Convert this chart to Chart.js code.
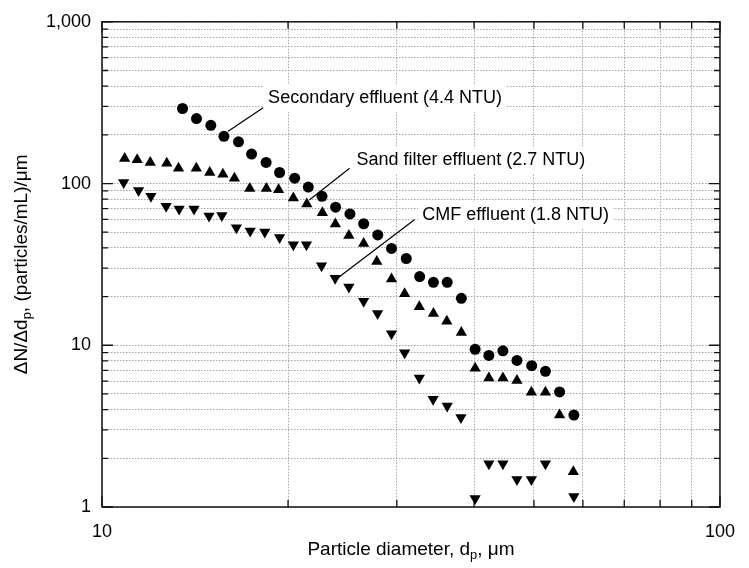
<!DOCTYPE html>
<html>
<head>
<meta charset="utf-8">
<script src="https://cdn.jsdelivr.net/npm/chart.js@4.4.0/dist/chart.umd.min.js"></script>
<style>
  html, body { margin: 0; padding: 0; background: #fff; }
</style>
</head>
<body>
<canvas id="chart" width="749" height="568"></canvas>
<script>
// Particle size distributions (d in um, dN/dd in particles/mL/um)
const secondaryX = [13.50, 14.22, 15.00, 15.75, 16.63, 17.46, 18.43, 19.38, 20.50, 21.57,
                    22.70, 23.88, 25.19, 26.51, 27.94, 29.41, 31.07, 32.66, 34.38, 36.19,
                    38.15, 40.16, 42.27, 44.54, 46.93, 49.58, 52.19, 55.01, 58.02];
const secondaryY = [291, 252, 229, 196, 181, 152, 135, 117, 108, 95.1,
                    83.4, 71.4, 64.9, 56.4, 48.1, 39.7, 34.4, 26.6, 24.5, 24.5,
                    19.5, 9.45, 8.65, 9.24, 8.06, 7.48, 6.90, 5.15, 3.70];

const sandX = [10.88, 11.40, 11.97, 12.73, 13.30, 14.21, 14.94, 15.69, 16.38, 17.34, 18.45, 19.31, 20.40,
               21.45, 22.73, 23.86, 25.09, 26.51, 27.84, 29.41, 30.88, 32.62, 34.38, 36.14, 38.15,
               40.16, 42.27, 44.54, 46.93, 49.53, 52.19, 55.01, 57.90];
const sandY = [143, 140.5, 134.7, 133.3, 124.3, 124.3, 116.9, 114.2, 107.9, 93.3, 93.3, 91.5, 81.4,
               74.8, 65.9, 56.2, 47.8, 42.6, 32.9, 25.7, 20.8, 17.3, 15.7, 14.1, 12.0,
               7.20, 6.28, 6.28, 6.05, 5.13, 5.13, 3.70, 1.65];

const cmfX = [10.84, 11.46, 12.00, 12.70, 13.33, 14.09, 14.90, 15.63, 16.50, 17.37, 18.34, 19.38, 20.40,
              21.42, 22.66, 23.84, 25.09, 26.51, 27.92, 29.41, 30.88, 32.62, 34.34, 36.19, 38.09,
              40.16, 42.27, 44.54, 46.93, 49.53, 52.19, 58.02];
const cmfY = [101.6, 90.7, 83.4, 72.4, 69.7, 69.7, 62.9, 63.4, 53.3, 50.9, 50.2, 46.3, 41.8,
              41.8, 31.0, 26.0, 22.9, 18.7, 15.7, 11.8, 8.99, 6.28, 4.63, 4.21, 3.57,
              1.13, 1.85, 1.85, 1.48, 1.48, 1.85, 1.16];

// axis ticks (gridlines at every one) and the few that carry a label
const xTicks = [10, 20, 30, 40, 50, 60, 70, 80, 90, 100];
const yTicks = [1, 2, 3, 4, 5, 6, 7, 8, 9,
                10, 20, 30, 40, 50, 60, 70, 80, 90,
                100, 200, 300, 400, 500, 600, 700, 800, 900, 1000];
const xTickLabels = { 10: '10', 100: '100' };
const yTickLabels = { 1: '1', 10: '10', 100: '100', 1000: '1,000' };

// callouts: text anchor and leader line, in data units
const noteText = ['Secondary effluent (4.4 NTU)', 'Sand filter effluent (2.7 NTU)', 'CMF effluent (1.8 NTU)'];
const noteX = [18.57, 25.81, 32.98];
const noteY = [338, 139.1, 64.0];
const leaderX1 = [15.98, 21.65, 24.16];
const leaderY1 = [209.4, 79.1, 26.3];
const leaderX2 = [18.23, 25.16, 32.03];
const leaderY2 = [293.7, 124.3, 59.7];

const FONT = '"Liberation Sans", Arial, Helvetica, sans-serif';

function points(xs, ys) {
    return xs.map((x, i) => ({ x: x, y: ys[i] }));
}

// draw a run of text pieces, some of them subscripts, starting at x
function drawParts(ctx, parts, x, y, size) {
    parts.forEach(p => {
        const s = p.sub ? size * 0.68 : size;
        ctx.font = s + 'px ' + FONT;
        ctx.fillText(p.t, x, p.sub ? y + size * 0.3 : y);
        x += ctx.measureText(p.t).width;
    });
}

function partsWidth(ctx, parts, size) {
    let w = 0;
    parts.forEach(p => {
        ctx.font = (p.sub ? size * 0.68 : size) + 'px ' + FONT;
        w += ctx.measureText(p.t).width;
    });
    return w;
}

// frame round the plot with inward tick marks on all four sides
const framePlugin = {
    id: 'frame',
    beforeDatasetsDraw(chart) {
        const { ctx, chartArea: a, scales: { x, y } } = chart;
        ctx.save();
        ctx.strokeStyle = '#111';
        ctx.lineWidth = 1.5;
        ctx.strokeRect(a.left, a.top, a.right - a.left, a.bottom - a.top);
        ctx.lineWidth = 1.3;
        ctx.beginPath();
        yTicks.forEach(v => {
            const py = y.getPixelForValue(v);
            const len = yTickLabels[v] ? 11 : 6;
            ctx.moveTo(a.left, py); ctx.lineTo(a.left + len, py);
            ctx.moveTo(a.right, py); ctx.lineTo(a.right - len, py);
        });
        xTicks.forEach(v => {
            const px = x.getPixelForValue(v);
            const len = xTickLabels[v] ? 11 : 7;
            ctx.moveTo(px, a.bottom); ctx.lineTo(px, a.bottom - len);
            ctx.moveTo(px, a.top); ctx.lineTo(px, a.top + len);
        });
        ctx.stroke();

        // callout boxes, leader lines and text
        const size = 18;
        ctx.font = size + 'px ' + FONT;
        ctx.textBaseline = 'middle';
        noteText.forEach((t, i) => {
            const tx = x.getPixelForValue(noteX[i]);
            const ty = y.getPixelForValue(noteY[i]);
            const w = ctx.measureText(t).width;
            ctx.fillStyle = '#fff';
            ctx.fillRect(tx - 4, ty - 13, w + 8, 26);
        });
        ctx.strokeStyle = '#000';
        ctx.lineWidth = 1.2;
        ctx.beginPath();
        leaderX1.forEach((v, i) => {
            ctx.moveTo(x.getPixelForValue(v), y.getPixelForValue(leaderY1[i]));
            ctx.lineTo(x.getPixelForValue(leaderX2[i]), y.getPixelForValue(leaderY2[i]));
        });
        ctx.stroke();
        ctx.fillStyle = '#000';
        noteText.forEach((t, i) => {
            ctx.fillText(t, x.getPixelForValue(noteX[i]), y.getPixelForValue(noteY[i]));
        });
        ctx.restore();
    }
};

// axis titles, with the subscript p
const titlesPlugin = {
    id: 'titles',
    afterDraw(chart) {
        const { ctx, chartArea: a } = chart;
        const size = 19;
        ctx.save();
        ctx.fillStyle = '#000';
        ctx.textBaseline = 'middle';
        ctx.textAlign = 'left';

        const xParts = [{ t: 'Particle diameter, d' }, { t: 'p', sub: true }, { t: ', \u03bcm' }];
        const xw = partsWidth(ctx, xParts, size);
        drawParts(ctx, xParts, (a.left + a.right) / 2 - xw / 2, 550, size);

        const yParts = [{ t: '\u0394N/\u0394d' }, { t: 'p', sub: true }, { t: ', (particles/mL)/\u03bcm' }];
        const yw = partsWidth(ctx, yParts, size);
        ctx.translate(22, (a.top + a.bottom) / 2);
        ctx.rotate(-Math.PI / 2);
        drawParts(ctx, yParts, -yw / 2, 0, size);
        ctx.restore();
    }
};

const tickFont = { family: FONT, size: 18 };
const gridStyle = { color: '#a4a4a4', lineWidth: 1, drawTicks: false };

new Chart(document.getElementById('chart'), {
    type: 'scatter',
    data: {
        datasets: [
            {
                label: 'Secondary effluent (4.4 NTU)',
                data: points(secondaryX, secondaryY),
                pointStyle: 'circle',
                pointRadius: 5.5,
                backgroundColor: '#000',
                borderColor: '#000',
                borderWidth: 0
            },
            {
                label: 'Sand filter effluent (2.7 NTU)',
                data: points(sandX, sandY),
                pointStyle: 'triangle',
                pointRadius: 6.5,
                backgroundColor: '#000',
                borderColor: '#000',
                borderWidth: 0
            },
            {
                label: 'CMF effluent (1.8 NTU)',
                data: points(cmfX, cmfY),
                pointStyle: 'triangle',
                rotation: 180,
                pointRadius: 6.5,
                backgroundColor: '#000',
                borderColor: '#000',
                borderWidth: 0
            }
        ]
    },
    options: {
        responsive: false,
        animation: false,
        layout: { padding: { top: 17, right: 18, left: 0, bottom: 0 } },
        plugins: { legend: { display: false }, tooltip: { enabled: false } },
        scales: {
            x: {
                type: 'logarithmic',
                min: 10,
                max: 100,
                afterBuildTicks: s => { s.ticks = xTicks.map(v => ({ value: v })); },
                afterFit: s => { s.height = 61; },
                grid: gridStyle,
                border: { display: false, dash: [1.5, 1.5] },
                ticks: {
                    autoSkip: false,
                    maxRotation: 0,
                    padding: 14,
                    color: '#000',
                    font: tickFont,
                    callback: v => xTickLabels[v] || ''
                }
            },
            y: {
                type: 'logarithmic',
                min: 1,
                max: 1000,
                afterBuildTicks: s => { s.ticks = yTicks.map(v => ({ value: v })); },
                afterFit: s => { s.width = 102; },
                grid: gridStyle,
                border: { display: false, dash: [1.5, 1.5] },
                ticks: {
                    autoSkip: false,
                    padding: 11,
                    color: '#000',
                    font: tickFont,
                    callback: v => yTickLabels[v] || ''
                }
            }
        }
    },
    plugins: [framePlugin, titlesPlugin]
});
</script>
</body>
</html>
